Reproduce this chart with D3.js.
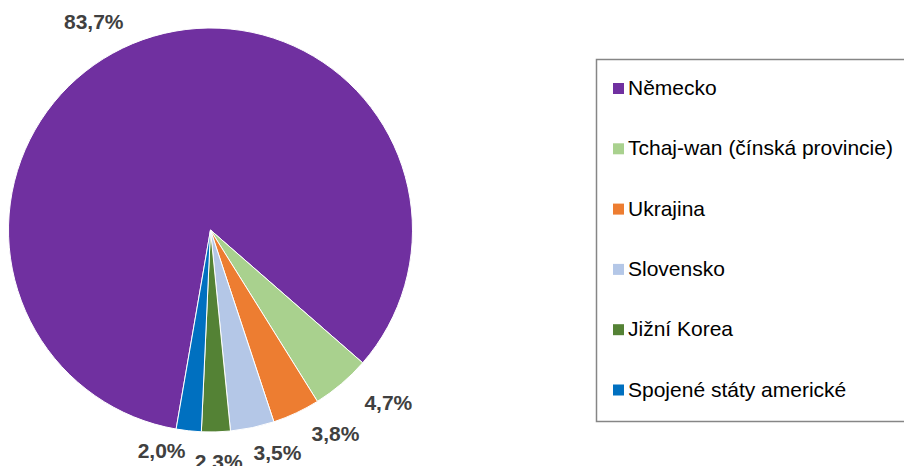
<!DOCTYPE html>
<html>
<head>
<meta charset="utf-8">
<script src="https://cdn.jsdelivr.net/npm/d3@7"></script>
<style>
  html, body { margin: 0; padding: 0; background: #fff; }
  svg { display: block; font-family: "Liberation Sans", Arial, sans-serif; }
</style>
</head>
<body>
<svg id="chart" width="904" height="466"></svg>
<script>
// Countries, in the order the slices run clockwise.
const countries = ["Německo", "Tchaj-wan (čínská provincie)", "Ukrajina", "Slovensko", "Jižní Korea", "Spojené státy americké"];
// Share of each country, in percent.
const shares = [83.7, 4.7, 3.8, 3.5, 2.3, 2.0];
// Slice colours.
const colors = ["#7030A0", "#A9D18E", "#ED7D31", "#B4C7E7", "#548235", "#0070C0"];

// Layout of the chart.
const cx = 210.5, cy = 230, radius = 202;
// First slice starts here (degrees, clockwise from 12 o'clock).
const startDeg = 189.8;
// Label placement: angle nudge (degrees) and distance beyond the rim, per slice.
const labelNudge = [-9.7, -5.4, -6.4, -4.8, -0.5, 6.3];
const labelGap = [37, 46, 37, 30, 30, 24];

const svg = d3.select("#chart");

const data = countries.map((c, i) => ({ country: c, share: shares[i], color: colors[i] }));

const start = startDeg * Math.PI / 180;
const pie = d3.pie()
    .sort(null)
    .value(d => d.share)
    .startAngle(start)
    .endAngle(start + 2 * Math.PI);

const arc = d3.arc().innerRadius(0).outerRadius(radius);

const body = svg.append("g")
    .attr("transform", `translate(${cx}, ${cy})`);

const arcs = pie(data);

// Slices
body.selectAll("path.slice")
    .data(arcs)
    .enter()
    .append("path")
    .attr("class", "slice")
    .attr("d", arc)
    .style("fill", d => d.data.color)
    .style("stroke", "#fff")
    .style("stroke-width", 1);

// Percentage labels
const fmt = v => v.toFixed(1).replace(".", ",") + "%";
body.selectAll("text.lbl")
    .data(arcs)
    .enter()
    .append("text")
    .attr("class", "lbl")
    .attr("x", (d, i) => {
        const a = (d.startAngle + d.endAngle) / 2 + labelNudge[i] * Math.PI / 180;
        return Math.sin(a) * (radius + labelGap[i]);
    })
    .attr("y", (d, i) => {
        const a = (d.startAngle + d.endAngle) / 2 + labelNudge[i] * Math.PI / 180;
        return -Math.cos(a) * (radius + labelGap[i]);
    })
    .attr("text-anchor", "middle")
    .attr("dy", "0.36em")
    .style("font-size", "21px")
    .style("font-weight", "bold")
    .style("fill", "#404040")
    .text(d => fmt(d.data.share));

// Legend
const legend = svg.append("g");
legend.append("rect")
    .attr("x", 596.5)
    .attr("y", 59.5)
    .attr("width", 340)
    .attr("height", 362)
    .style("fill", "#fff")
    .style("stroke", "#868686")
    .style("stroke-width", 1.5);

const legendY = d3.scalePoint()
    .domain(countries)
    .range([95, 396.5]);

const items = legend.selectAll("g.item")
    .data(data)
    .enter()
    .append("g")
    .attr("class", "item")
    .attr("transform", d => `translate(0, ${legendY(d.country)})`);

items.append("rect")
    .attr("x", 613)
    .attr("y", -12)
    .attr("width", 11)
    .attr("height", 11)
    .style("fill", d => d.color);

items.append("text")
    .attr("x", 628)
    .attr("y", 0)
    .style("font-size", "21px")
    .style("fill", "#000")
    .text(d => d.country);
</script>
</body>
</html>
